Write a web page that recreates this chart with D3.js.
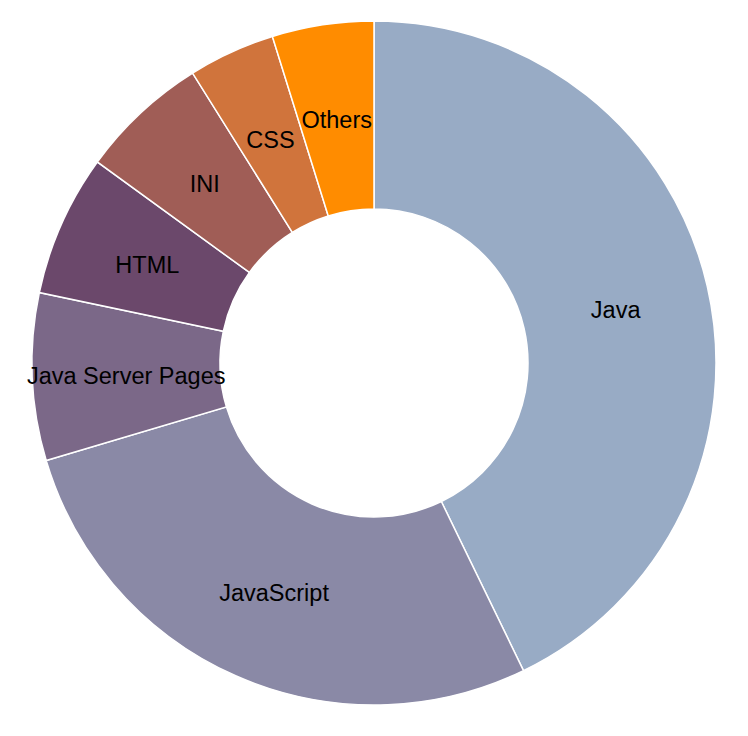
<!DOCTYPE html>
<html>
<head>
<meta charset="utf-8">
<script src="https://cdn.jsdelivr.net/npm/d3@7"></script>
<style>
  html, body { margin: 0; padding: 0; background: #fff; }
  svg { display: block; }
</style>
</head>
<body>
<svg id="chart" width="748" height="736"></svg>
<script>
const categories = ["Java", "JavaScript", "Java Server Pages", "HTML", "INI", "CSS", "Others"];
const values = [42.8, 27.6, 7.9, 6.7, 6.1, 4.1, 4.8];
const colors = ["#98abc5", "#8a89a6", "#7b6888", "#6b486b", "#a05d56", "#d0743c", "#ff8c00"];

const data = categories.map((c, i) => ({ name: c, value: values[i] }));

const svg = d3.select("#chart");
const cx = 374, cy = 363;
const outerR = 342, innerR = 154;

const color = d3.scaleOrdinal().domain(categories).range(colors);
const pie = d3.pie().sort(null).value(d => d.value);
const arc = d3.arc().innerRadius(innerR).outerRadius(outerR);

const g = svg.append("g").attr("transform", `translate(${cx},${cy})`);
const arcs = g.selectAll("g.arc").data(pie(data)).enter().append("g").attr("class", "arc");

arcs.append("path")
  .attr("d", arc)
  .attr("fill", d => color(d.data.name))
  .attr("stroke", "#fff")
  .attr("stroke-width", 1.5);

arcs.append("text")
  .attr("transform", d => `translate(${arc.centroid(d)})`)
  .attr("dy", "0.45em")
  .attr("text-anchor", "middle")
  .style("font-family", "'Liberation Sans', Arial, Helvetica, sans-serif")
  .style("font-size", "23.5px")
  .attr("fill", "#000")
  .text(d => d.data.name);
</script>
</body>
</html>
